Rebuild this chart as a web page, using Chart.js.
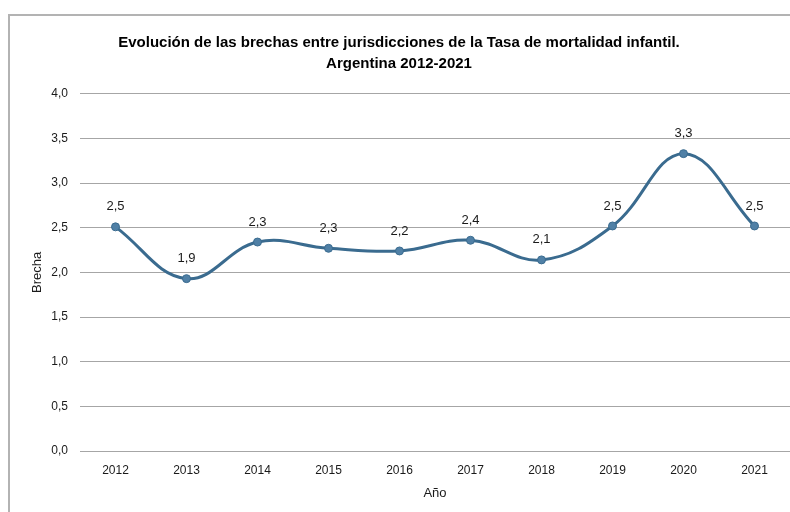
<!DOCTYPE html>
<html lang="es">
<head>
    <meta charset="UTF-8">
    <title>Brechas Tasa de mortalidad infantil</title>
    <script src="https://cdn.jsdelivr.net/npm/chart.js"></script>
    <style>
        html, body {
            margin: 0;
            padding: 0;
            background: #ffffff;
            overflow: hidden;
        }
        #frame {
            position: absolute;
            left: 8px;
            top: 14px;
            width: 800px;
            height: 520px;
            border: 2px solid #b3b3b3;
            box-sizing: border-box;
        }
        #wrap {
            position: absolute;
            left: 8px;
            top: 14px;
            width: 792px;
            height: 498px;
        }
    </style>
</head>
<body>
    <div id="frame"></div>
    <div id="wrap"><canvas id="chart"></canvas></div>

    <script>
        const years = ['2012', '2013', '2014', '2015', '2016', '2017', '2018', '2019', '2020', '2021'];
        const brecha = [2.51, 1.93, 2.34, 2.27, 2.24, 2.36, 2.14, 2.52, 3.33, 2.52];
        const titleLines = [
            'Evolución de las brechas entre jurisdicciones de la Tasa de mortalidad infantil.',
            'Argentina 2012-2021'
        ];

        const fontFamily = '"Liberation Sans", Arial, sans-serif';
        const fmt = v => v.toFixed(1).replace('.', ',');

        // etiquetas de valor encima de cada punto
        const valueLabels = {
            id: 'valueLabels',
            afterDatasetsDraw(chart) {
                const ctx = chart.ctx;
                const meta = chart.getDatasetMeta(0);
                ctx.save();
                ctx.font = '13px ' + fontFamily;
                ctx.fillStyle = '#1a1a1a';
                ctx.textAlign = 'center';
                ctx.textBaseline = 'middle';
                meta.data.forEach((pt, i) => {
                    ctx.fillText(fmt(brecha[i]), pt.x, pt.y - 20);
                });
                ctx.restore();
            }
        };

        new Chart(document.getElementById('chart'), {
            type: 'line',
            data: {
                labels: years,
                datasets: [{
                    data: brecha,
                    borderColor: '#3a6b8f',
                    borderWidth: 3,
                    tension: 0.4,
                    pointRadius: 4,
                    pointBackgroundColor: '#5080a6',
                    pointBorderColor: '#3a6b8f',
                    pointBorderWidth: 1,
                    fill: false
                }]
            },
            options: {
                responsive: true,
                maintainAspectRatio: false,
                animation: false,
                layout: { padding: { left: 0, right: 10, top: 0, bottom: 11 } },
                plugins: {
                    legend: { display: false },
                    tooltip: { enabled: false },
                    title: {
                        display: true,
                        text: titleLines,
                        color: '#000000',
                        font: { family: fontFamily, size: 15, weight: 'bold', lineHeight: 1.36 },
                        padding: { top: 19, bottom: 20 }
                    }
                },
                scales: {
                    x: {
                        offset: true,
                        grid: { display: false, drawTicks: false },
                        border: { display: true, color: '#a6a6a6', width: 1 },
                        ticks: {
                            color: '#1a1a1a',
                            font: { family: fontFamily, size: 12 },
                            padding: 12,
                            maxRotation: 0
                        },
                        title: {
                            display: true,
                            text: 'Año',
                            color: '#1a1a1a',
                            font: { family: fontFamily, size: 13 },
                            padding: { top: 6, bottom: 0 }
                        },
                        afterFit(scale) { scale.height = 50; }
                    },
                    y: {
                        min: 0,
                        max: 4,
                        grid: { color: '#a6a6a6', lineWidth: 1, drawTicks: false },
                        border: { display: false },
                        ticks: {
                            stepSize: 0.5,
                            color: '#1a1a1a',
                            font: { family: fontFamily, size: 12 },
                            padding: 12,
                            callback: v => fmt(v)
                        },
                        title: {
                            display: true,
                            text: 'Brecha',
                            color: '#1a1a1a',
                            font: { family: fontFamily, size: 13 },
                            padding: { top: 22, bottom: 0 }
                        },
                        afterFit(scale) { scale.width = 72; }
                    }
                }
            },
            plugins: [valueLabels]
        });
    </script>
</body>
</html>
